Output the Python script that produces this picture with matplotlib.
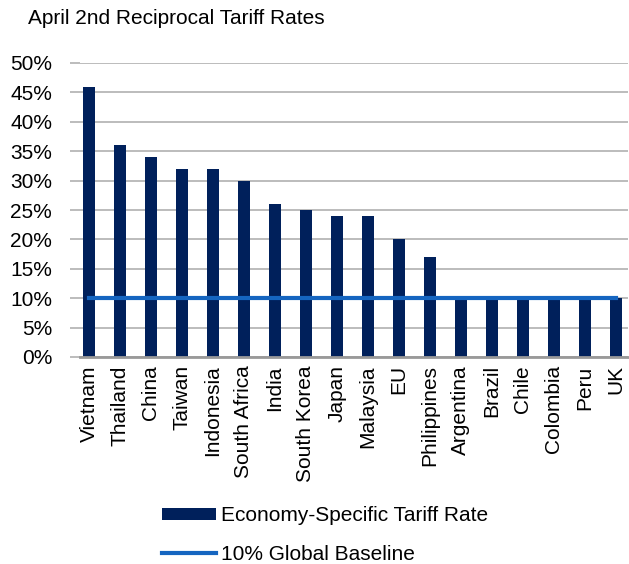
import numpy as np
import matplotlib.pyplot as plt
from matplotlib.ticker import PercentFormatter

plt.rcParams['font.family'] = ['Liberation Sans', 'DejaVu Sans']

countries = ['Vietnam', 'Thailand', 'China', 'Taiwan', 'Indonesia', 'South Africa',
             'India', 'South Korea', 'Japan', 'Malaysia', 'EU', 'Philippines',
             'Argentina', 'Brazil', 'Chile', 'Colombia', 'Peru', 'UK']
tariff_rate = [46, 36, 34, 32, 32, 30, 26, 25, 24, 24, 20, 17, 10, 10, 10, 10, 10, 10]
baseline = [10] * len(countries)

bar_color = '#00205b'
line_color = '#1565c0'
grid_color = '#b0b0b0'
fs = 15

fig = plt.figure(figsize=(6.29, 5.64), dpi=100)
ax = fig.add_axes([80/629, 1 - 357/564, 548/629, 294/564])

x = np.arange(len(countries))
bars = ax.bar(x, tariff_rate, width=0.4, color=bar_color, zorder=2,
              label='Economy-Specific Tariff Rate')
line, = ax.plot(x, baseline, color=line_color, lw=3, zorder=3,
                label='10% Global Baseline')

ax.set_xlim(-0.29, 17.39)
ax.set_ylim(0, 50)
ax.set_yticks(np.arange(0, 51, 5))
ax.yaxis.set_major_formatter(PercentFormatter(decimals=0))
ax.set_xticks(x)
ax.set_xticklabels(countries, rotation=90, fontsize=fs)
ax.tick_params(axis='y', labelsize=fs, length=7, color=grid_color, width=1.2, pad=13)
ax.tick_params(axis='x', length=0, pad=6)
ax.grid(axis='y', color=grid_color, lw=1.2, zorder=0)
for s in ['top', 'right', 'left']:
    ax.spines[s].set_visible(False)
ax.spines['bottom'].set_color('#999999')
ax.spines['bottom'].set_linewidth(2)

fig.text(28/629, 1 - 18/564, 'April 2nd Reciprocal Tariff Rates', fontsize=fs,
         va='center', ha='left')

fig.legend([bars, line], ['Economy-Specific Tariff Rate', '10% Global Baseline'],
           loc='center', bbox_to_anchor=(325/629, 1 - 535/564), frameon=False,
           fontsize=fs, handlelength=2.6, handleheight=0.5, handletextpad=0.25,
           labelspacing=0.95)

fig.savefig('out.png', dpi=100)
